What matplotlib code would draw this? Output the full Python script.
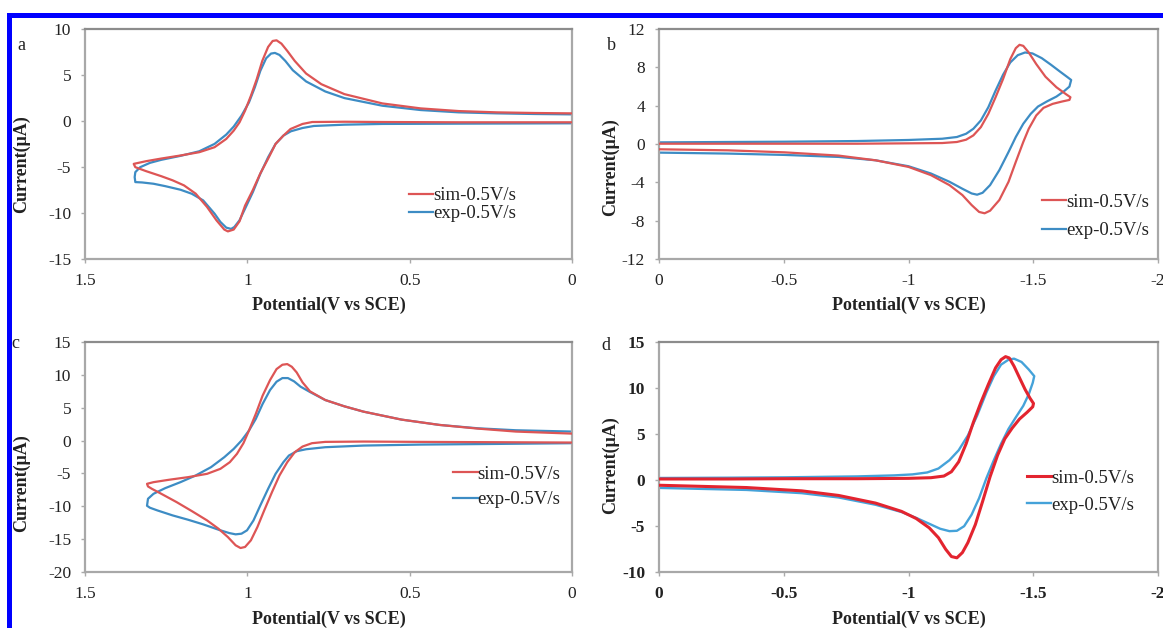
import matplotlib
matplotlib.use("Agg")
import matplotlib.pyplot as plt
from matplotlib.patches import Rectangle

plt.rcParams['font.family'] = ['Liberation Serif', 'DejaVu Serif']
plt.rcParams['axes.unicode_minus'] = False

# ---- panel a : sim / exp, 0 V -> vertex -> 0 V ----
a_sim_x = [0.0, 0.35, 0.58, 0.70, 0.80, 0.83, 0.867, 0.889, 0.913, 0.936, 0.96, 0.983, 1.007, 1.024,
           1.042, 1.06, 1.071, 1.095, 1.124, 1.159, 1.195, 1.23, 1.265, 1.312, 1.345,
           1.35, 1.312, 1.265, 1.206, 1.148, 1.101, 1.065, 1.042, 1.024, 1.007, 0.989, 0.971, 0.954,
           0.936, 0.922, 0.910, 0.895, 0.877, 0.854, 0.819, 0.772, 0.701, 0.584, 0.466, 0.349,
           0.231, 0.114, 0.0]
a_sim_y = [-0.14, -0.14, -0.11, -0.08, -0.11, -0.32, -0.87, -1.59, -2.49, -4.1, -5.7, -7.5, -9.2, -10.9,
           -11.8, -12.0, -11.8, -10.8, -9.35, -7.9, -7.0, -6.45, -6.0, -5.45, -5.02,
           -4.66, -4.37, -4.08, -3.75, -3.39, -2.85, -1.95, -1.05, -0.14, 1.12, 2.74, 4.55, 6.53,
           8.05, 8.7, 8.77, 8.41, 7.62, 6.53, 5.16, 4.0, 2.92, 1.91, 1.37, 1.08,
           0.94, 0.87, 0.83]
a_exp_x = [0.0, 0.349, 0.584, 0.701, 0.795, 0.83, 0.866, 0.889, 0.913, 0.936, 0.96, 0.983, 1.007, 1.024,
           1.04, 1.05, 1.065, 1.083, 1.101, 1.136, 1.171, 1.206, 1.253, 1.289, 1.324, 1.345,
           1.347, 1.345, 1.33, 1.30, 1.265, 1.206, 1.148, 1.101, 1.065, 1.042, 1.018, 0.995, 0.977,
           0.96, 0.942, 0.927, 0.915, 0.901, 0.883, 0.86, 0.819, 0.76, 0.701, 0.584, 0.466, 0.349,
           0.231, 0.114, 0.0]
a_exp_y = [-0.25, -0.29, -0.32, -0.4, -0.54, -0.76, -1.12, -1.59, -2.49, -3.94, -5.74, -7.73, -9.53, -10.79,
           -11.52, -11.73, -11.59, -10.97, -10.07, -8.63, -7.91, -7.47, -7.08, -6.82, -6.68, -6.64,
           -6.1, -5.56, -5.02, -4.55, -4.22, -3.79, -3.29, -2.49, -1.48, -0.61, 0.58, 2.02, 3.65,
           5.45, 6.82, 7.33, 7.4, 7.18, 6.53, 5.52, 4.3, 3.21, 2.49, 1.66, 1.19, 0.94,
           0.83, 0.76, 0.72]

# ---- panel b ----
b_sim_x = [0.0, -0.277, -0.503, -0.794, -1.0, -1.135, -1.194, -1.231, -1.26, -1.29, -1.32, -1.349, -1.379,
           -1.408, -1.43, -1.445, -1.46, -1.482, -1.512, -1.549, -1.593, -1.63, -1.649,
           -1.645, -1.615, -1.578, -1.541, -1.512, -1.482, -1.46, -1.43, -1.401, -1.364, -1.327, -1.305,
           -1.283, -1.253, -1.216, -1.164, -1.09, -1.0, -0.868, -0.72, -0.503, -0.277, 0.0]
b_sim_y = [0.03, 0.03, 0.03, 0.03, 0.07, 0.1, 0.21, 0.45, 0.9, 1.76, 3.15, 4.88, 6.78,
           8.86, 10.0, 10.35, 10.24, 9.55, 8.34, 7.02, 5.92, 5.22, 4.88,
           4.6, 4.43, 4.19, 3.77, 2.98, 1.59, 0.21, -1.87, -3.94, -5.85, -6.96, -7.23,
           -7.09, -6.37, -5.33, -4.29, -3.25, -2.39, -1.7, -1.21, -0.87, -0.66, -0.55]
b_exp_x = [0.0, -0.277, -0.503, -0.794, -1.0, -1.135, -1.194, -1.231, -1.26, -1.29, -1.32, -1.349, -1.379,
           -1.408, -1.438, -1.467, -1.497, -1.534, -1.571, -1.608, -1.638, -1.652,
           -1.645, -1.623, -1.593, -1.556, -1.519, -1.49, -1.46, -1.43, -1.401, -1.364, -1.327, -1.297,
           -1.275, -1.253, -1.216, -1.164, -1.09, -1.0, -0.868, -0.72, -0.503, -0.277, 0.0]
b_exp_y = [0.17, 0.21, 0.24, 0.31, 0.42, 0.55, 0.73, 1.07, 1.59, 2.46, 3.84, 5.57, 7.23,
           8.51, 9.27, 9.55, 9.45, 8.96, 8.27, 7.54, 6.96, 6.68,
           5.99, 5.5, 4.95, 4.46, 3.91, 3.15, 2.11, 0.73, -0.83, -2.73, -4.29, -5.09,
           -5.29, -5.16, -4.67, -3.94, -3.08, -2.32, -1.7, -1.35, -1.14, -1.0, -0.9]

# ---- panel c ----
c_sim_x = [0.0, 0.231, 0.466, 0.642, 0.76, 0.801, 0.83, 0.854, 0.877, 0.901, 0.924, 0.948, 0.969, 0.989,
           1.007, 1.021, 1.036, 1.06, 1.089, 1.124, 1.171, 1.218, 1.265, 1.294, 1.306,
           1.309, 1.289, 1.242, 1.183, 1.124, 1.083, 1.054, 1.032, 1.012, 0.995, 0.974, 0.953, 0.93,
           0.91, 0.892, 0.877, 0.863, 0.848, 0.83, 0.807, 0.76, 0.701, 0.642, 0.525, 0.408, 0.29,
           0.173, 0.0]
c_sim_y = [-0.3, -0.25, -0.2, -0.15, -0.2, -0.4, -0.91, -1.77, -3.29, -5.31, -7.84, -10.63, -13.16, -15.18,
           -16.19, -16.35, -15.94, -14.68, -13.41, -12.15, -10.73, -9.36, -8.1, -7.34, -6.98,
           -6.58, -6.33, -5.97, -5.57, -5.06, -4.3, -3.29, -2.02, -0.4, 1.52, 4.05, 6.83, 9.21,
           10.88, 11.54, 11.64, 11.23, 10.37, 8.86, 7.49, 6.17, 5.21, 4.4, 3.19, 2.38, 1.82,
           1.37, 1.06]
c_exp_x = [0.0, 0.231, 0.466, 0.642, 0.76, 0.819, 0.848, 0.872, 0.889, 0.913, 0.936, 0.96, 0.981, 1.001,
           1.018, 1.036, 1.056, 1.089, 1.136, 1.183, 1.23, 1.277, 1.3, 1.309,
           1.306, 1.289, 1.253, 1.206, 1.159, 1.112, 1.071, 1.042, 1.018, 0.995, 0.974, 0.953, 0.93,
           0.91, 0.892, 0.875, 0.856, 0.836, 0.807, 0.76, 0.701, 0.642, 0.525, 0.408, 0.29,
           0.173, 0.0]
c_exp_y = [-0.4, -0.51, -0.61, -0.76, -1.01, -1.32, -1.62, -2.28, -3.29, -5.06, -7.34, -9.87, -12.15, -13.66,
           -14.17, -14.27, -14.07, -13.56, -12.75, -12.04, -11.39, -10.63, -10.22, -9.92,
           -8.86, -8.1, -7.24, -6.33, -5.31, -4.05, -2.53, -1.27, 0.0, 1.52, 3.29, 5.57, 7.69,
           8.96, 9.51, 9.51, 9.01, 8.2, 7.39, 6.17, 5.21, 4.4, 3.19, 2.38, 1.87,
           1.57, 1.37]

# ---- panel d ----
d_sim_x = [0.0, -0.277, -0.503, -0.794, -1.0, -1.09, -1.142, -1.172, -1.201, -1.231, -1.26, -1.29, -1.32,
           -1.349, -1.371, -1.389, -1.404, -1.423, -1.445, -1.467, -1.487, -1.501,
           -1.498, -1.475, -1.445, -1.416, -1.386, -1.357, -1.327, -1.297, -1.268, -1.238, -1.216, -1.194,
           -1.172, -1.149, -1.12, -1.083, -1.031, -0.972, -0.868, -0.72, -0.572, -0.351, 0.0]
d_sim_y = [0.11, 0.11, 0.14, 0.14, 0.18, 0.25, 0.43, 0.9, 1.97, 3.94, 6.27, 8.42, 10.39,
           12.19, 13.08, 13.41, 13.26, 12.37, 11.11, 9.86, 8.89, 8.32,
           7.96, 7.35, 6.63, 5.66, 4.48, 2.69, 0.36, -2.33, -4.84, -6.81, -7.89, -8.46,
           -8.32, -7.53, -6.27, -5.2, -4.19, -3.41, -2.51, -1.68, -1.18, -0.82, -0.57]
d_exp_x = [0.0, -0.277, -0.503, -0.794, -0.942, -1.016, -1.075, -1.12, -1.164, -1.201, -1.238, -1.275, -1.312,
           -1.342, -1.371, -1.401, -1.423, -1.453, -1.482, -1.504,
           -1.498, -1.482, -1.46, -1.43, -1.401, -1.371, -1.342, -1.312, -1.283, -1.253, -1.223, -1.194,
           -1.164, -1.127, -1.09, -1.031, -0.972, -0.868, -0.72, -0.572, -0.351, 0.0]
d_exp_y = [0.22, 0.25, 0.29, 0.39, 0.5, 0.61, 0.82, 1.25, 2.15, 3.23, 4.84, 6.99, 9.5,
           11.29, 12.54, 13.08, 13.19, 12.83, 12.01, 11.29,
           10.57, 9.32, 8.06, 6.81, 5.56, 3.94, 2.15, 0.18, -1.97, -3.76, -5.02, -5.52,
           -5.56, -5.3, -4.84, -4.12, -3.48, -2.69, -1.9, -1.43, -1.08, -0.86]

labels = ['sim-0.5V/s', 'exp-0.5V/s']

W, H = 1163, 628
fig = plt.figure(figsize=(W / 100, H / 100), dpi=100)


def px_axes(x0, y0, x1, y1):
    return fig.add_axes([x0 / W, 1 - y1 / H, (x1 - x0) / W, (y1 - y0) / H])


panels = [
    dict(rect=(85, 29, 572, 259), data=(a_sim_x, a_sim_y, a_exp_x, a_exp_y),
         xlim=(1.5, 0), xt=[1.5, 1, 0.5, 0], xtl=['1.5', '1', '0.5', '0'],
         ylim=(-15, 10), yt=[-15, -10, -5, 0, 5, 10],
         letter='a', lpos=(21, 45), cols=('#dd5555', '#3d8cc4'), lw=(1.6, 1.6), bold=False,
         leg=(0.665, 0.312), sp=0.05, ylab=(30, 164), xlab=-0.165),
    dict(rect=(659, 29, 1158, 259), data=(b_sim_x, b_sim_y, b_exp_x, b_exp_y),
         xlim=(0, -2), xt=[0, -0.5, -1, -1.5, -2], xtl=['0', '-0.5', '-1', '-1.5', '-2'],
         ylim=(-12, 12), yt=[-12, -8, -4, 0, 4, 8, 12],
         letter='b', lpos=(611, 45), cols=('#dd5555', '#3d8cc4'), lw=(1.6, 1.6), bold=False,
         leg=(0.767, 0.283), sp=0.6, ylab=(619, 167), xlab=-0.165),
    dict(rect=(85, 342, 572, 572), data=(c_sim_x, c_sim_y, c_exp_x, c_exp_y),
         xlim=(1.5, 0), xt=[1.5, 1, 0.5, 0], xtl=['1.5', '1', '0.5', '0'],
         ylim=(-20, 15), yt=[-20, -15, -10, -5, 0, 5, 10, 15],
         letter='c', lpos=(15, 343), cols=('#dd5555', '#3d8cc4'), lw=(1.6, 1.6), bold=False,
         leg=(0.756, 0.463), sp=0.45, ylab=(30, 483), xlab=-0.168),
    dict(rect=(659, 342, 1158, 572), data=(d_sim_x, d_sim_y, d_exp_x, d_exp_y),
         xlim=(0, -2), xt=[0, -0.5, -1, -1.5, -2], xtl=['0', '-0.5', '-1', '-1.5', '-2'],
         ylim=(-10, 15), yt=[-10, -5, 0, 5, 10, 15],
         letter='d', lpos=(606, 345), cols=('#e3242f', '#45a2d9'), lw=(2.2, 1.7), bold=True,
         leg=(0.737, 0.446), sp=0.55, ylab=(619, 465), xlab=-0.168),
]

for p in panels:
    x0, y0, x1, y1 = p['rect']
    ax = px_axes(x0, y0, x1, y1)
    sx, sy, ex, ey = p['data']
    ax.plot(sx, sy, color=p['cols'][0], lw=p['lw'][0], label=labels[0], zorder=3)
    ax.plot(ex, ey, color=p['cols'][1], lw=p['lw'][1], label=labels[1], zorder=2)
    ax.set_xlim(*p['xlim'])
    ax.set_ylim(*p['ylim'])
    ax.set_xticks(p['xt'])
    ax.set_xticklabels(p['xtl'])
    ax.set_yticks(p['yt'])
    fw = 'bold' if p['bold'] else 'normal'
    for t in ax.get_xticklabels() + ax.get_yticklabels():
        t.set_fontweight(fw)
    ax.tick_params(labelsize=12.5, length=3, width=1, color='#aaaaaa', labelcolor='#222222',
                   direction='out', pad=7)
    for s in ax.spines.values():
        s.set_color('#a8a8a8')
        s.set_linewidth(1.6)
    ax.spines['top'].set_color('#8c8c8c')
    ax.set_xlabel('Potential(V vs SCE)', fontsize=13, fontweight='bold', color='#222222')
    ax.xaxis.set_label_coords(0.5, p['xlab'])
    ax.set_ylabel('Current(μA)', fontsize=13, fontweight='bold', color='#222222')
    lx, ly = p['ylab']
    ax.yaxis.set_label_coords((lx - x0) / (x1 - x0), (y1 - ly) / (y1 - y0))
    leg = ax.legend(loc='upper left', bbox_to_anchor=p['leg'], frameon=False, fontsize=13.5,
                    handlelength=1.3, handletextpad=0.0, labelspacing=p['sp'], borderpad=0,
                    borderaxespad=0)
    for t in leg.get_texts():
        t.set_color('#222222')
    fig.text(p['lpos'][0] / W, 1 - p['lpos'][1] / H, p['letter'], fontsize=13,
             ha='center', va='center', color='#222222')

# blue frame at the top and left edge
fig.patches.append(Rectangle((7 / W, 0), 5 / W, 1 - 13 / H, transform=fig.transFigure,
                             facecolor='#0000ff', edgecolor='none'))
fig.patches.append(Rectangle((7 / W, 1 - 18 / H), 1 - 7 / W, 5 / H, transform=fig.transFigure,
                             facecolor='#0000ff', edgecolor='none'))

fig.savefig('out.png', dpi=100)
